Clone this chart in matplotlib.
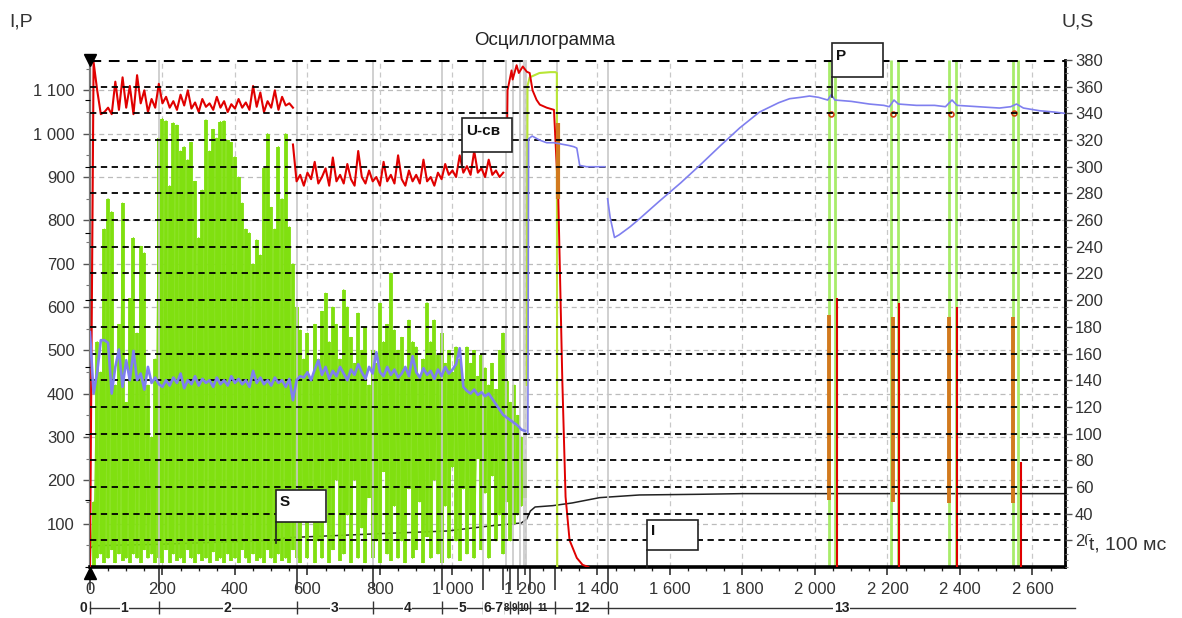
import numpy as np
import matplotlib
matplotlib.use("Agg")
import matplotlib.pyplot as plt
import matplotlib.transforms as mtransforms
from matplotlib.patches import Rectangle

plt.rcParams['font.family'] = ['Liberation Sans', 'DejaVu Sans']

# ------------------------------------------------------------------ data
# time in units of 100 ms
# P (green), envelope sampled every 10 units from 0 to 1200 (left axis)
green_t = np.arange(0, 1201, 10)
green_hi = [0, 150, 520, 450, 780, 850, 820, 420, 560, 840,
            380, 620, 760, 540, 740, 725, 420, 300, 480, 990,
            1035, 1030, 880, 1025, 1020, 960, 970, 940, 980, 890,
            760, 870, 1032, 960, 1010, 990, 1028, 1030, 985, 980,
            947, 900, 840, 780, 771, 700, 755, 720, 920, 1000,
            830, 780, 970, 850, 1000, 785, 700, 600, 547, 480,
            540, 430, 560, 480, 590, 632, 520, 600, 560, 480,
            640, 600, 530, 470, 586, 500, 554, 420, 500, 470,
            609, 520, 560, 678, 547, 500, 530, 460, 570, 520,
            508, 440, 480, 610, 520, 570, 490, 540, 470, 500,
            450, 508, 480, 430, 508, 470, 500, 440, 490, 460,
            420, 470, 410, 500, 540, 430, 380, 420, 350, 300, 250]
green_lo = [0, 0, 20, 30, 10, 20, 40, 10, 30, 15,
            20, 10, 30, 20, 10, 40, 20, 30, 10, 20,
            10, 40, 10, 30, 15, 20, 10, 40, 20, 10,
            30, 15, 20, 10, 35, 15, 20, 10, 30, 15,
            20, 10, 40, 20, 10, 30, 15, 20, 10, 40,
            20, 10, 30, 15, 20, 10, 40, 20, 10, 120,
            20, 150, 10, 60, 20, 180, 10, 40, 200, 15,
            30, 120, 10, 200, 20, 90, 10, 160, 20, 60,
            10, 220, 30, 15, 140, 20, 60, 10, 180, 20,
            40, 150, 10, 70, 20, 200, 30, 10, 140, 20,
            230, 60, 15, 180, 30, 120, 20, 250, 40, 170,
            20, 210, 60, 120, 30, 150, 60, 100, 120, 140, 160]
# P during the final stage (left axis)
green3_t = [1205, 1207, 1213, 1240, 1270, 1284, 1288, 1289]
green3_v = [420, 1110, 1130, 1140, 1142, 1142, 1140, 0]

# I (red), left axis
red1_t = np.arange(0, 561, 10)
red1_v = [0, 1165, 1100, 1045, 1050, 1060, 1045, 1120, 1055, 1130,
          1060, 1110, 1045, 1135, 1070, 1100, 1050, 1080, 1060, 1115,
          1070, 1085, 1060, 1075, 1055, 1090, 1065, 1100, 1058, 1072,
          1050, 1080, 1062, 1070, 1055, 1085, 1060, 1075, 1050, 1068,
          1058, 1080, 1060, 1072, 1055, 1110, 1062, 1095, 1050, 1075,
          1060, 1100, 1055, 1085, 1065, 1070, 1060]
red2_t = np.arange(560, 1141, 10)
red2_v = [975, 890, 905, 880, 910, 895, 935, 885, 900, 920,
          880, 945, 890, 905, 885, 930, 895, 880, 960, 900,
          885, 915, 890, 900, 880, 935, 890, 905, 885, 950,
          895, 880, 915, 890, 905, 885, 940, 890, 900, 880,
          910, 895, 930, 905, 915, 900, 950, 910, 925, 905,
          960, 910, 920, 900, 940, 905, 915, 900, 910]
red3_t = [1150, 1152, 1163, 1166, 1177, 1183, 1194, 1205, 1213, 1221, 1232,
          1241, 1260, 1280, 1292, 1296, 1303, 1312, 1323, 1343, 1359, 1375]
red3_v = [960, 1100, 1146, 1125, 1158, 1140, 1155, 1143, 1140, 1100, 1078,
          1067, 1060, 1055, 850, 700, 432, 162, 62, 21, 5, 0]

# orange segment at the end of welding (left axis)
orange_weld_t = [1290]
orange_weld_top = [1025]
orange_weld_bot = [850]

# pulses (left axis)
pulse_green_t = [2040, 2054, 2211, 2228, 2371, 2388, 2545, 2561]
pulse_orange_t = [2040, 2214, 2371, 2545]
pulse_orange_top = [582, 578, 578, 578]
pulse_orange_bot = [155, 150, 148, 148]
pulse_red_t = [2062, 2233, 2393, 2567]
pulse_red_top = [620, 610, 601, 243]
pulse_mark_t = [2044, 2216, 2376, 2550]
pulse_mark_v = [1045, 1045, 1045, 1048]

# U (blue), right axis
blue1_t = np.arange(0, 1201, 10)
blue1_v = [176, 130, 146, 170, 170, 168, 130, 150, 163, 135,
           155, 140, 162, 140, 145, 133, 150, 138, 142, 137,
           135, 140, 136, 142, 138, 145, 134, 140, 137, 143,
           136, 141, 138, 140, 135, 142, 137, 140, 136, 143,
           138, 141, 137, 140, 135, 147, 138, 142, 137, 140,
           136, 142, 138, 140, 135, 141, 125, 140, 143, 142,
           146, 140, 148, 155, 144, 150, 141, 147, 143, 150,
           145, 140, 148, 144, 152, 146, 141, 150, 145, 161,
           146, 143, 150, 144, 148, 142, 145, 150, 143, 158,
           146, 142, 149, 144, 147, 141, 148, 143, 150, 145,
           148, 152, 164, 135, 132, 130, 133, 129, 131, 128,
           130, 126, 122, 118, 114, 112, 110, 108, 106, 103, 102]
blue2_t = [1208, 1210, 1220, 1240, 1260, 1280, 1300, 1320, 1335, 1343,
           1351, 1370, 1400, 1420]
blue2_v = [100, 321, 323, 320, 318, 318, 317, 316, 315, 314,
           301, 300, 300, 300]
blue3_t = [1428, 1435, 1447, 1460, 1490, 1516, 1570, 1630, 1682, 1740,
           1792, 1847, 1900, 1930, 1960, 1985, 2010, 2035, 2045, 2055,
           2100, 2150, 2190, 2205, 2218, 2230, 2280, 2330, 2360, 2378,
           2392, 2450, 2509, 2540, 2556, 2575, 2619, 2660, 2690]
blue3_v = [276, 262, 247, 249, 255, 261, 274, 288, 301, 316,
           329, 341, 348, 351, 352, 353, 352, 350, 354, 350,
           349, 347, 346, 345, 350, 347, 346, 346, 345, 350,
           346, 345, 344, 345, 347, 344, 342, 341, 340]

# S (black), right axis
s_t = [0, 10, 190, 500, 545, 800, 985, 1110, 1150, 1190, 1205, 1215,
       1228, 1277, 1330, 1406, 1516, 1680, 1800, 2690]
s_v = [14, 16, 17, 20, 22, 25, 27, 31, 32, 33, 36, 42,
       45, 46, 48, 52, 54, 54.5, 55, 55]

# phase boundaries (gray lines) and phase labels
gray_t = [190, 570, 780, 970, 1085, 1148, 1168, 1185, 1196, 1203, 1288, 1428]
phase_bounds = [0, 190, 570, 780, 970, 1085, 1140, 1160, 1180, 1213, 1282, 1430, 2716]
phase_labels = ["1", "2", "3", "4", "5", "6-7", "8", "9", "10", "11", "12", "13"]

x_ticks = list(range(0, 2601, 200))
x_tick_labels = ["0", "200", "400", "600", "800", "1 000", "1 200", "1 400",
                 "1 600", "1 800", "2 000", "2 200", "2 400", "2 600"]
left_ticks = list(range(100, 1101, 100))
left_tick_labels = ["100", "200", "300", "400", "500", "600", "700", "800",
                    "900", "1 000", "1 100"]
right_ticks = list(range(20, 381, 20))

# ------------------------------------------------------------------ styles
C_RED = '#E00000'
C_GREEN = '#80E010'
C_GREEN_L = '#A8EC6A'
C_YGREEN = '#B8E635'
C_BLUE = '#7F7FEF'
C_ORANGE = '#D27A1E'
C_GRAY = '#C8C8C8'
C_TXT = '#333333'

XMAX = 2690
YL = 1170
YR = 380

fig = plt.figure(figsize=(11.82, 6.18), dpi=100)
rect = [0.0761, 0.0825, 0.825, 0.8204]

ax_s = fig.add_axes(rect)            # back: S line
ax = fig.add_axes(rect, sharex=ax_s)  # middle: I, P
ax_u = fig.add_axes(rect, sharex=ax_s)  # front: U, grid, boxes
for a in (ax_s, ax, ax_u):
    a.set_xlim(0, XMAX)
ax_s.set_ylim(0, YR)
ax_u.set_ylim(0, YR)
ax.set_ylim(0, YL)
ax_s.set_zorder(1)
ax.set_zorder(2)
ax_u.set_zorder(3)
ax.patch.set_visible(False)
ax_u.patch.set_visible(False)
ax_s.set_facecolor('white')

for a in (ax_s, ax_u):
    a.tick_params(left=False, labelleft=False, bottom=False, labelbottom=False)
    for sp in a.spines.values():
        sp.set_visible(False)

# ---- back: S
ax_s.plot(s_t, s_v, color='#222222', lw=1.1, zorder=3)

# ---- gray grids (left ticks), vertical dashed grid
for y in left_ticks:
    ax_s.axhline(y * YR / YL, color='#BBBBBB', lw=0.9, ls=(0, (4, 3)), zorder=1)
for x in x_ticks[1:]:
    ax_s.axvline(x, color='#C8C8C8', lw=0.9, ls=(0, (4, 3)), zorder=1)

# ---- middle: P, gray phase lines, I
ax.vlines(green_t, green_lo, green_hi, color=C_GREEN, lw=2.75, zorder=2)
zig_x = np.repeat(green_t, 2)
zig_y = np.column_stack([green_hi, green_lo]).ravel()
ax.plot(zig_x, zig_y, color=C_GREEN, lw=0.8, zorder=2)
ax.vlines(gray_t, 0, YL, color=C_GRAY, lw=1.4, alpha=0.85, zorder=2.5)
ax.plot(green3_t, green3_v, color=C_YGREEN, lw=1.5, zorder=3)

ax.vlines(pulse_green_t, 0, YL, color=C_GREEN_L, lw=2.0, zorder=2)

ax.plot(red1_t, red1_v, color=C_RED, lw=1.5, zorder=4)
ax.plot(red2_t, red2_v, color=C_RED, lw=1.5, zorder=4)
ax.plot(red3_t, red3_v, color=C_RED, lw=1.4, zorder=4)
ax.vlines(orange_weld_t, orange_weld_bot, orange_weld_top, color=C_ORANGE, lw=3, zorder=5)
ax.vlines(pulse_orange_t, pulse_orange_bot, pulse_orange_top, color=C_ORANGE, lw=2.8, zorder=5)
ax.vlines(pulse_red_t, 0, pulse_red_top, color=C_RED, lw=1.5, zorder=5)
ax.plot(pulse_mark_t, pulse_mark_v, ls='none', marker='o', ms=3.5, mfc='none',
        mec='#D04010', mew=1.2, zorder=6)

# ---- front: black dashed grid, U
for y in right_ticks:
    ax_u.axhline(y, color='black', lw=1.3 if y < YR else 2.2,
                 ls=(0, (3.5, 2.5)), zorder=1)
ax_u.plot(blue1_t, blue1_v, color=C_BLUE, lw=1.9, zorder=3)
ax_u.plot(blue2_t, blue2_v, color=C_BLUE, lw=1.2, zorder=3)
ax_u.plot(blue3_t, blue3_v, color=C_BLUE, lw=1.2, zorder=3)

# ---- boxes with leaders (right-axis units)
def label_box(x0, x1, y0, y1, ylead, text):
    ax_u.add_patch(Rectangle((x0, y0), x1 - x0, y1 - y0, facecolor='white',
                             edgecolor='#222222', lw=1.2, zorder=8, clip_on=False))
    ax_u.plot([x0, x0], [ylead, y0], color='#222222', lw=1.2, zorder=8, clip_on=False)
    ax_u.text(x0 + (x1 - x0) * 0.08, (y0 + y1) / 2 + (y1 - y0) * 0.12, text,
              fontsize=11, fontweight='bold', ha='left', va='center',
              color='#111111', zorder=9, clip_on=False)

label_box(513, 651, 33.7, 57.7, 18, "S")
label_box(1538, 1676, 12.7, 35.2, 0, "I")
label_box(1026, 1163, 311, 336.5, 300, "U-св")
label_box(2048, 2189, 367, 393, 352, "P")

# ---- spines and ticks of the main axes
ax.spines['top'].set_visible(False)
ax.spines['bottom'].set_linewidth(2.6)
ax.spines['bottom'].set_color('black')
ax.spines['right'].set_linewidth(2.0)
ax.spines['right'].set_color('black')
ax.spines['left'].set_linewidth(1.6)
ax.spines['left'].set_color('#777777')

ax.set_xticks(x_ticks)
ax.set_xticklabels(x_tick_labels, fontsize=12, color=C_TXT)
ax.set_xticks(np.arange(0, XMAX, 50), minor=True)
ax.tick_params(axis='x', which='major', length=6, width=1.2, pad=5, direction='out', color='#333333')
ax.tick_params(axis='x', which='minor', length=3, width=1, direction='out', color='#555555')

ax.set_yticks(left_ticks)
ax.set_yticklabels(left_tick_labels, fontsize=12, color=C_TXT)
ax.set_yticks(np.arange(0, YL, 50), minor=True)
ax.tick_params(axis='y', which='major', length=5, width=1, pad=6, color='#555555')
ax.tick_params(axis='y', which='minor', length=3, width=0.8, color='#777777')

ax_r = ax_u.twinx()
ax_r.set_ylim(0, YR)
ax_r.set_zorder(4)
for sp in ax_r.spines.values():
    sp.set_visible(False)
ax_r.set_yticks(right_ticks)
ax_r.set_yticklabels([str(v) for v in right_ticks], fontsize=12, color=C_TXT)
ax_r.set_yticks(np.arange(0, YR, 5), minor=True)
ax_r.tick_params(axis='y', which='major', length=5, width=1, pad=2, color='#555555')
ax_r.tick_params(axis='y', which='minor', length=2.5, width=0.8, color='#777777')

# ---- phase boundary ticks and phase axis
trans = mtransforms.blended_transform_factory(ax.transData, ax.transAxes)
ax.vlines(phase_bounds[:-1], -0.045, 0, transform=trans, color='#333333',
          lw=1.2, clip_on=False)
ax.plot([phase_bounds[0], phase_bounds[-1]], [-0.08, -0.08], transform=trans,
        color='#333333', lw=1.0, clip_on=False)
ax.vlines(phase_bounds[:-1], -0.092, -0.068, transform=trans, color='#333333',
          lw=1.0, clip_on=False)
ax.text(-8, -0.08, "0", transform=trans, ha='right', va='center', fontsize=10,
        fontweight='bold', color='#222222', clip_on=False)
for i, lab in enumerate(phase_labels):
    xm = (phase_bounds[i] + phase_bounds[i + 1]) / 2
    small = lab in ("8", "9", "10", "11")
    ax.text(xm, -0.08, lab, transform=trans, ha='center', va='center',
            fontsize=7 if small else 10,
            fontweight='bold', color='#222222', clip_on=False,
            bbox=None if small else dict(boxstyle='square,pad=0.05', fc='white', ec='none'))

# ---- origin markers
ax.plot([0], [1.0], transform=trans, marker='v', ms=9, color='black', clip_on=False, zorder=10)
ax.plot([0], [-0.012], transform=trans, marker='^', ms=9, color='black', clip_on=False, zorder=10)

# ---- texts
fig.text(0.461, 0.935, "Осциллограмма", fontsize=13.5, color='#222222', ha='center', va='center')
fig.text(0.008, 0.965, "I,P", fontsize=14, color=C_TXT, ha='left', va='center')
fig.text(0.898, 0.965, "U,S", fontsize=14, color=C_TXT, ha='left', va='center')
fig.text(0.921, 0.118, "t, 100 мс", fontsize=14, color=C_TXT, ha='left', va='center',
         bbox=dict(boxstyle='square,pad=0.1', fc='white', ec='none'), zorder=20)

fig.savefig("out.png", dpi=100)
